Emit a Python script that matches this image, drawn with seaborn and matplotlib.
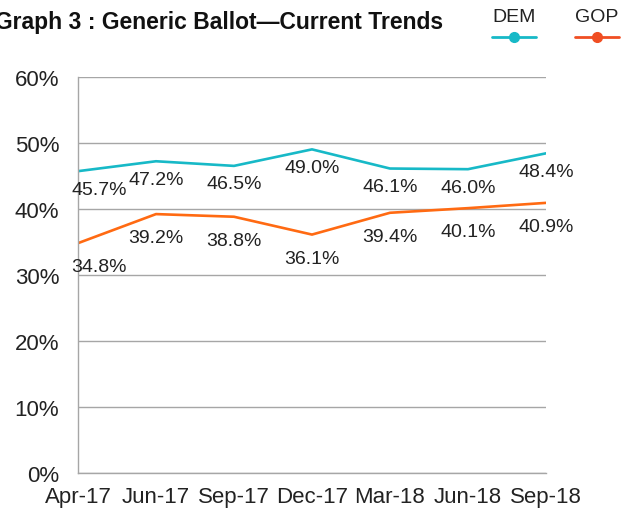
import matplotlib
matplotlib.use("Agg")
import matplotlib.pyplot as plt
from matplotlib.lines import Line2D
import seaborn as sns
import pandas as pd

# data
months = ["Apr-17", "Jun-17", "Sep-17", "Dec-17", "Mar-18", "Jun-18", "Sep-18"]
dem = [45.7, 47.2, 46.5, 49.0, 46.1, 46.0, 48.4]
gop = [34.8, 39.2, 38.8, 36.1, 39.4, 40.1, 40.9]

dem_color = "#17B9C7"
gop_color = "#FF6A12"
grid_color = "#A6A6A6"

sns.set_style("white")
plt.rcParams["font.family"] = ["Liberation Sans", "DejaVu Sans"]

df = pd.DataFrame({"month": months, "DEM": dem, "GOP": gop})
df["x"] = range(len(df))

fig = plt.figure(figsize=(6.29, 5.10), dpi=100)
ax = fig.add_axes([0.1240, 0.0706, 0.7440, 0.7770])

sns.lineplot(data=df, x="x", y="DEM", color=dem_color, linewidth=1.9, ax=ax)
sns.lineplot(data=df, x="x", y="GOP", color=gop_color, linewidth=1.9, ax=ax)

# data labels below each point
for col, off in [("DEM", -13), ("GOP", -17)]:
    for i, v in enumerate(df[col]):
        if i == 0:
            ha, dx = "left", -5
        else:
            ha, dx = "center", 0
        ax.annotate(f"{v:.1f}%", (i, v), xytext=(dx, off), textcoords="offset points",
                    ha=ha, va="center", fontsize=14, color="#222222")

ax.set_xlim(0, len(months) - 1)
ax.set_ylim(0, 60)
ax.set_xticks(range(len(months)))
ax.set_xticklabels(months)
ax.set_yticks(range(0, 61, 10))
ax.set_yticklabels([f"{t}%" for t in range(0, 61, 10)])
ax.set_xlabel("")
ax.set_ylabel("")

ax.grid(axis="y", color=grid_color, linewidth=1)
ax.set_axisbelow(True)
for s in ["top", "right"]:
    ax.spines[s].set_visible(False)
for s in ["left", "bottom"]:
    ax.spines[s].set_color(grid_color)
    ax.spines[s].set_linewidth(1)
ax.tick_params(axis="y", length=4.5, color=grid_color, labelsize=16, pad=9, labelcolor="#222222")
ax.tick_params(axis="x", length=3.5, color=grid_color, labelsize=16, pad=6, labelcolor="#222222")

# title
fig.text(443 / 629, 1 - 22 / 510, "Graph 3 : Generic Ballot\u2014Current Trends",
         ha="right", va="center", fontsize=16.5, fontweight="bold", color="#111111")

# legend: name above a short line with a dot
for name, color, cx in [("DEM", dem_color, 514), ("GOP", "#F04E23", 597)]:
    fig.text(cx / 629, 1 - 17 / 510, name, ha="center", va="center", fontsize=14, color="#222222")
    fig.add_artist(Line2D([(cx - 22) / 629, (cx + 22) / 629], [1 - 38 / 510] * 2,
                          color=color, linewidth=2, transform=fig.transFigure))
    fig.add_artist(Line2D([cx / 629], [1 - 38 / 510], marker="o", markersize=7,
                          color=color, transform=fig.transFigure))

fig.savefig("out.png", dpi=100)
